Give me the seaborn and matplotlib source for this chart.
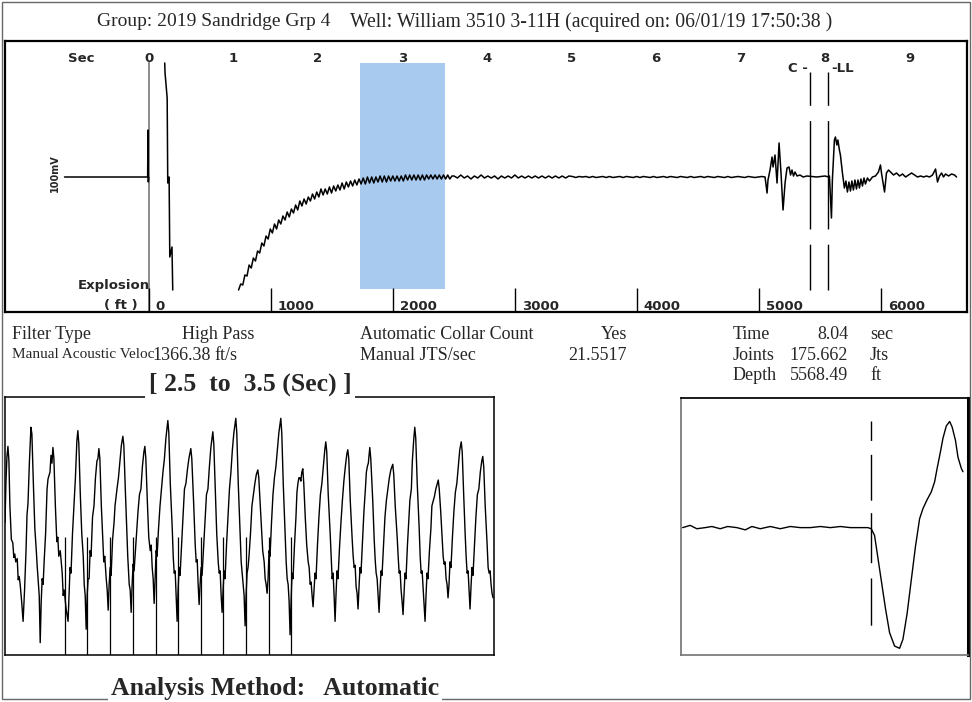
import matplotlib
matplotlib.use('Agg')
import numpy as np
import matplotlib.pyplot as plt
import seaborn as sns
from matplotlib.patches import Rectangle

sns.set_theme(style='white')
plt.rcParams['font.family'] = ['Liberation Serif', 'DejaVu Serif']

# ---- shot info ----
sec_ticks = [0, 1, 2, 3, 4, 5, 6, 7, 8, 9]
ft_ticks = [0, 1000, 2000, 3000, 4000, 5000, 6000]
ll_time = 8.04
ll_depth = 5568.49
collar_time = 7.82
win_start, win_end = 2.5, 3.5

# ---- full trace (sec, relative amplitude) ----
shot_t = [-1.0, -0.016, -0.012, -0.008, -0.004]
shot_amp = [0, 0, 47, -5, 0]

kick_t = [0.186, 0.190, 0.215, 0.222, 0.238, 0.246, 0.272, 0.281]
kick_amp = [114, 104, 79, -6, 0, -80, -70, -113]

rise_t0, rise_dt = 1.06, 0.025
rise_amp = [-113, -107, -108, -98, -99, -88, -91, -81, -84, -74, -76,
            -66, -69, -59, -62, -52, -56, -47, -52, -43, -47,
            -39, -43, -35, -40, -32, -36, -28, -33, -24, -29,
            -22, -27, -20, -24, -17, -22, -15, -20, -12, -18,
            -12, -17, -10, -16, -9, -14, -8, -13, -6, -12,
            -5, -10, -4, -9, -3, -8, -2, -7, -1, -7,
            0, -6, 0, -6, 0, -5, 1, -5, 1, -5,
            1, -4, 1, -4, 1, -4, 1, -4, 2, -3,
            2, -3, 2, -3, 2, -3, 2, -3, 2, -2,
            2, -2, 2, -2, 2, -2, 2, -2, 2, -2, 1]

flat_t0, flat_dt = 3.61, 0.04
flat_amp = [1, -1, 2, -1, 1, -2, 1, -1, 2, -1, 1, -1, 1, -2, 1, -1, 1, -1,
            2, -1, 1, -1, 1, -1, 1, -1, 1, -1, 1, -1, 1, -1, 1, -1, 1,
            0.5, -0.5, 0.5, 0, 0.5, -0.5, 0.5, -0.5, 0, 0.5, -0.5, 0.5, -0.5, 0, 0.5,
            -0.5, 0.5, 0, -0.5, 0.5, -0.5, 0.5, 0, -0.5, 0.5, -0.5, 0, 0.5, -0.5, 0.5,
            0, -0.5, 0.5, 0, -0.5, 0.5, -0.5, 0, 0.5, -0.5, 0.5, 0, -0.5, 0.5, 0,
            -0.5, 0.5, -0.5, 0, 0.5, 0, -0.5, 0.5, 0, -0.5, 0, 0.5, 0]

echo_t = [7.314, 7.325, 7.349, 7.373, 7.385, 7.408, 7.432, 7.456, 7.479, 7.503,
          7.527, 7.550, 7.574, 7.592, 7.609, 7.627, 7.645, 7.669, 7.704, 7.740,
          7.787, 7.900, 8.000, 8.040, 8.052, 8.076, 8.087, 8.111, 8.123, 8.140,
          8.152, 8.170, 8.182, 8.206, 8.229, 8.247, 8.265, 8.283, 8.301, 8.318,
          8.336, 8.354, 8.372, 8.390, 8.407, 8.425, 8.443, 8.461, 8.478, 8.502,
          8.526, 8.561, 8.597, 8.632, 8.656, 8.668, 8.704, 8.727, 8.751, 8.775,
          8.811, 8.846, 8.882, 8.917, 8.953, 8.988, 9.024, 9.059, 9.095, 9.131,
          9.166, 9.201, 9.237, 9.272, 9.308, 9.331, 9.355, 9.379, 9.402, 9.426,
          9.462, 9.497, 9.533, 9.556]
echo_amp = [-16, -3, 7, 20, 10, 22, -6, 34, 4, -33,
            -6, 9, 10, 2, 7, 1, 5, 1, 2, 0,
            1, 0, 1, 0, 1, -41, -3, 37, 40, 32,
            37, 27, 22, 4, -11, -4, -15, -5, -14, -4,
            -13, -3, -12, -3, -11, -2, -9, -1, -7, -1,
            -4, 0, 1, 5, 12, 4, -15, 4, 7, 5,
            2, 4, 1, 3, 0, 2, 4, 2, 0, 1,
            0, 1, 0, 2, 8, -5, 1, 4, 0, 3,
            1, 3, 2, 0]

# ---- 2.5 to 3.5 sec window (ms from window start) ----
zoom_ms = [0, 2, 4, 6, 8, 10, 13, 16, 18, 20, 22, 25, 27, 29, 31, 34, 37, 40, 43, 45, 47, 50,
           53, 55, 58, 61, 64, 66, 70, 72, 74, 76, 78, 80, 83, 86, 88, 92, 94, 96,
           98, 100, 103, 106, 108, 110, 113, 117, 119, 121, 125, 129, 131, 133, 135, 138, 141, 144, 147,
           149, 151, 154, 157, 160, 162, 164, 166, 168, 170, 172, 174, 176, 179, 182, 185, 188, 190,
           192, 194, 197, 200, 202, 204, 207, 209, 211, 213, 215, 217, 220, 223, 225, 229, 232, 235, 238,
           241, 243, 246, 249, 251, 254, 256, 258, 260, 262, 264, 266, 269, 272, 275, 278, 281, 284,
           286, 288, 291, 294, 297, 299, 301, 303, 305, 307, 309, 311, 314, 317, 320, 323, 326, 329,
           333, 335, 338, 342, 344, 346, 348, 350, 352, 354, 356, 358, 361, 364, 367, 370, 373, 376,
           380, 382, 386, 389, 391, 393, 395, 397, 399, 401, 403, 406, 409, 412, 415, 418, 421,
           425, 427, 430, 433, 436, 438, 440, 442, 444, 446, 448, 450, 453, 456, 459, 462, 465, 468,
           472, 474, 477, 481, 483, 485, 487, 489, 491, 493, 495, 497, 499, 502, 505, 508, 511, 514,
           517, 519, 522, 525, 527, 530, 532, 534, 536, 538, 540, 542, 545, 548, 551, 554, 557, 560,
           564, 566, 569, 573, 575, 577, 579, 581, 583, 585, 587, 589, 592, 595, 597, 599, 601, 603, 605, 607,
           609, 611, 614, 617, 620, 622, 624, 626, 628, 630, 632, 634, 636, 639, 642, 645, 648, 651, 654,
           656, 658, 661, 665, 667, 669, 671, 673, 675, 677, 679, 681, 684, 687, 690, 693, 696, 699,
           701, 703, 706, 710, 712, 714, 716, 718, 720, 722, 724, 726, 728, 731, 734, 737, 739, 741, 743,
           746, 748, 752, 755, 757, 759, 761, 763, 765, 767, 769, 771, 774, 777, 780, 783, 786, 789,
           793, 795, 798, 802, 804, 806, 808, 810, 812, 814, 816, 818, 820, 823, 826, 828, 831, 833, 836,
           838, 840, 843, 847, 849, 851, 853, 856, 859, 861, 863, 865, 868, 871, 873, 876, 878, 881, 884,
           886, 888, 891, 894, 896, 898, 900, 902, 904, 906, 908, 910, 912, 915, 918, 921, 924, 927, 930,
           933, 935, 938, 941, 943, 945, 947, 949, 951, 953, 955, 957, 960, 963, 966, 969, 972, 975,
           977, 979, 982, 986, 988, 990, 992, 994, 996, 998]
zoom_amp = [3, 40, 62, 71, 58, 18, -12, -15, -28, -25, -32, -29, -48, -45, -52, -67, -85, -57, -22, 10, 20, 58,
            88, 82, 38, -2, -22, -37, -62, -104, -68, -47, -52, -32, -7, 33, 42, 48, 63, 56,
            70, 60, 18, -14, -10, -27, -22, -42, -62, -57, -74, -85, -62, -37, -42, -7, 18, 43, 76,
            85, 73, 28, -7, -27, -52, -62, -92, -62, -47, -47, -22, -27, 8, 18, 43, 58, 60,
            69, 60, 18, -12, -32, -27, -47, -57, -75, -52, -37, -44, -12, 3, 18, 33, 43, 58, 72,
            80, 72, 33, -2, -27, -52, -57, -77, -52, -34, -40, -27, -7, 13, 28, 33, 53, 66,
            71, 60, 23, -10, -22, -17, -37, -47, -69, -47, -22, -27, -2, 18, 33, 48, 60, 78,
            94, 83, 38, -2, -27, -42, -40, -62, -85, -57, -37, -44, -17, 8, 33, 38, 50, 60,
            69, 60, 18, -17, -32, -30, -52, -70, -52, -37, -44, -20, 3, 28, 33, 53, 70,
            84, 73, 33, -7, -32, -42, -40, -62, -77, -57, -40, -47, -17, 8, 33, 48, 68, 83,
            96, 83, 38, -7, -32, -42, -52, -62, -89, -62, -42, -37, -27, -7, 18, 28, 38, 46,
            50, 43, 18, -7, -22, -32, -47, -52, -60, -47, -22, -27, 3, 28, 43, 53, 68, 83,
            96, 83, 38, -7, -32, -47, -52, -67, -97, -67, -42, -47, -17, 8, 30, 38, 43, 43, 40, 48,
            51, 38, 8, -17, -32, -37, -52, -50, -62, -72, -57, -42, -47, -17, 8, 28, 38, 53, 68,
            75, 66, 28, -7, -27, -47, -42, -62, -85, -60, -40, -47, -20, 3, 23, 40, 53, 64,
            68, 60, 23, -12, -27, -37, -35, -54, -60, -74, -54, -37, -42, -14, 13, 33, 48, 53, 56,
            70, 60, 23, -12, -30, -42, -47, -62, -77, -57, -40, -44, -17, 8, 23, 33, 43, 50,
            55, 46, 18, -10, -27, -42, -40, -57, -67, -79, -60, -42, -47, -17, 8, 23, 33, 58, 78,
            88, 78, 38, -2, -27, -42, -40, -62, -85, -62, -42, -47, -22, -2, 18, 23, 26, 33, 38,
            41, 33, 13, -12, -27, -34, -32, -47, -52, -64, -52, -32, -37, -10, 13, 30, 38, 53, 68,
            75, 66, 28, -7, -27, -42, -40, -57, -74, -54, -37, -44, -17, 8, 28, 33, 48, 58,
            62, 53, 18, -17, -37, -42, -40, -52, -60, -64]
collar_ms = [123, 168, 215, 262, 309, 354, 401, 446, 493, 540, 585]

# ---- liquid level close-up (ms from LL kick) ----
ll_ms = [-226, -217, -209, -199, -191, -181, -172, -161, -151, -143,
         -133, -121, -109, -97, -85, -73, -61, -49, -37, -25,
         -13, -4, 0, 4, 7, 12, 17, 22, 28, 34,
         38, 43, 48, 53, 58, 62, 67, 72, 76, 79,
         83, 86, 90, 94, 97, 101, 104, 108, 110]
ll_amp = [0, 2, -1, 0, 1, -1, 1, 0, -2, 1,
          -1, 1, -1, 1, 0, 0, 1, 0, 1, 0,
          0, 0, -1, -7, -22, -47, -72, -94, -106, -108,
          -100, -77, -47, -17, 8, 17, 25, 32, 41, 53,
          68, 80, 91, 95, 90, 78, 63, 53, 50]

W, H = 972, 702


def box(x0, y0, x1, y1):
    return [x0 / W, 1 - y1 / H, (x1 - x0) / W, (y1 - y0) / H]


def fx(x):
    return x / W


def fy(y):
    return 1 - y / H


def clean(a):
    a.set_xticks([])
    a.set_yticks([])
    a.set(xlabel='', ylabel='')
    a.set_facecolor('white')


fig = plt.figure(figsize=(9.72, 7.02), dpi=100)
fig.patches.append(Rectangle((fx(1.5), fy(699)), fx(968.5), (699 - 1.5) / H,
                             transform=fig.transFigure, fill=False, ec='#666666', lw=1))

# ---- main trace ----
ax = fig.add_axes(box(5, 41, 967, 312))
ax.set_xlim(-1.704, 9.68)
ax.set_ylim(-135, 136)
ax.add_patch(Rectangle((win_start, -112), win_end - win_start, 226, color='#a9caef', lw=0, zorder=0))
ax.vlines(0, -135, 115, color='#8a8a8a', lw=1.4, zorder=1)

line_kw = dict(ax=ax, color='black', lw=1.1, sort=False, estimator=None, legend=False)
sns.lineplot(x=shot_t, y=shot_amp, **line_kw)
sns.lineplot(x=kick_t, y=kick_amp, **line_kw)
rise_t = rise_t0 + np.arange(len(rise_amp)) * rise_dt
flat_t = flat_t0 + np.arange(len(flat_amp)) * flat_dt
trace_t = np.concatenate([rise_t, flat_t, echo_t])
trace_amp = np.concatenate([rise_amp, flat_amp, echo_amp])
sns.lineplot(x=trace_t, y=trace_amp, **line_kw)

dash_pat = (0, (24, 11, 78, 11, 34, 60))
for t in [collar_time, ll_time]:
    ax.plot([t, t], [105, -113], color='black', lw=1, linestyle=dash_pat)

lab = dict(family='DejaVu Sans', fontweight='bold', fontsize=9.5, va='center')
ax.text(-0.80, 119, 'Sec', ha='center', **lab)
for s in sec_ticks:
    ax.text(s, 119, str(s), ha='center', **lab)
ax.text(collar_time - 0.025, 109, 'C -', ha='right', **lab)
ax.text(ll_time + 0.03, 109, '-LL', ha='left', **lab)
ax.text(0.01, -108, 'Explosion', ha='right', **lab)
ax.text(-0.13, -129, '( ft )', ha='right', **lab)
ft_t = np.array(ft_ticks) * ll_time / ll_depth
ax.vlines(ft_t, -135, -111, color='black', lw=1)
for d, t in zip(ft_ticks, ft_t):
    ax.text(t + 0.08, -129, str(d), ha='left', **lab)
ax.text(-1.112, 4, '100mV', rotation=90, ha='center', family='DejaVu Sans',
        fontweight='bold', fontsize=7, va='center')
clean(ax)
for sp in ax.spines.values():
    sp.set_color('black')
    sp.set_linewidth(1.6)

# ---- info block ----
info = dict(fontsize=13, va='center')
fig.text(fx(97), fy(22), 'Group: 2019 Sandridge Grp 4', ha='left', fontsize=14, va='center')
fig.text(fx(350), fy(22), 'Well: William 3510 3-11H (acquired on: 06/01/19 17:50:38 )', ha='left',
         fontsize=14.2, va='center')

fig.text(fx(12), fy(335), 'Filter Type', ha='left', **info)
fig.text(fx(182), fy(335), 'High Pass', ha='left', **info)
fig.text(fx(12), fy(355), 'Manual Acoustic Veloc', ha='left', fontsize=11, va='center')
fig.text(fx(152), fy(355), '1366.38', ha='left', **info)
fig.text(fx(214), fy(355), 'ft/s', ha='left', **info)
fig.text(fx(360), fy(335), 'Automatic Collar Count', ha='left', **info)
fig.text(fx(627), fy(335), 'Yes', ha='right', **info)
fig.text(fx(360), fy(355), 'Manual JTS/sec', ha='left', **info)
fig.text(fx(627), fy(355), '21.5517', ha='right', **info)
for y, name, val, unit in [(335, 'Time', f'{ll_time:.2f}', 'sec'),
                           (355, 'Joints', '175.662', 'Jts'),
                           (375, 'Depth', f'{ll_depth:.2f}', 'ft')]:
    fig.text(fx(733), fy(y), name, ha='left', **info)
    fig.text(fx(848), fy(y), val, ha='right', **info)
    fig.text(fx(870), fy(y), unit, ha='left', **info)

# ---- window close-up ----
axz = fig.add_axes(box(5, 397, 494, 655))
axz.set_xlim(0, 1000)
axz.set_ylim(-115, 115)
sns.lineplot(x=zoom_ms, y=zoom_amp, ax=axz, color='black', lw=1, sort=False, estimator=None, legend=False)
axz.vlines(collar_ms, -115, -10, color='black', lw=0.9)
clean(axz)
for sp in axz.spines.values():
    sp.set_color('black')
    sp.set_linewidth(1.1)
fig.text(fx(250), fy(384), f'[ {win_start}  to  {win_end} (Sec) ]', ha='center', va='center',
         fontsize=18.5, fontweight='bold', bbox=dict(fc='white', ec='none', pad=2.5))

# ---- liquid level close-up ----
axl = fig.add_axes(box(681, 398, 968, 655))
axl.set_xlim(-228, 116)
axl.set_ylim(-114, 116)
sns.lineplot(x=ll_ms, y=ll_amp, ax=axl, color='black', lw=1, sort=False, estimator=None, legend=False)
axl.plot([0, 0], [95, -109], color='black', lw=1, linestyle=(0, (14, 10, 33, 9, 36, 11, 34, 60)))
clean(axl)
axl.spines['left'].set_color('#777777')
axl.spines['bottom'].set_color('#777777')
axl.spines['top'].set_color('black')
axl.spines['right'].set_color('black')
axl.spines['right'].set_linewidth(2.2)

fig.text(fx(111), fy(688), 'Analysis Method:   Automatic', ha='left', va='center',
         fontsize=18.5, fontweight='bold', bbox=dict(fc='white', ec='none', pad=2))

fig.savefig('out.png', dpi=100)
